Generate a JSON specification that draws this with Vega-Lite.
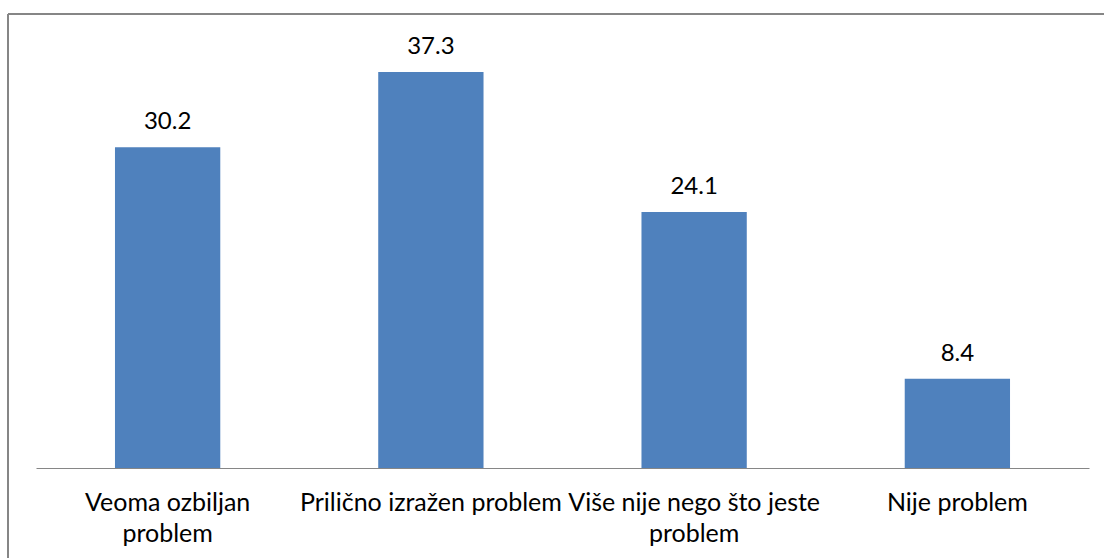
{
  "$schema": "https://vega.github.io/schema/vega-lite/v6.json",
  "autosize": {"type": "none"},
  "padding": {"left": 8, "top": 14, "right": 0, "bottom": 0},
  "width": 1096,
  "height": 544,
  "background": "white",
  "config": {
    "view": {"stroke": "#868686", "strokeWidth": 2, "strokeDash": [1096, 1640, 544, 0]},
    "font": "Lato"
  },
  "data": {
    "values": [
      {"category": "Veoma ozbiljan problem", "value": 30.2},
      {"category": "Prilično izražen problem", "value": 37.3},
      {"category": "Više nije nego što jeste problem", "value": 24.1},
      {"category": "Nije problem", "value": 8.4}
    ]
  },
  "encoding": {
    "x": {
      "field": "category",
      "type": "nominal",
      "sort": null,
      "scale": {"range": [28, 1081], "paddingInner": 0.6, "paddingOuter": 0.3},
      "axis": {
        "title": null,
        "orient": "bottom",
        "offset": -90,
        "labelAngle": 0,
        "labelOverlap": false,
        "labelLimit": 0,
        "ticks": false,
        "tickSize": 0,
        "labelPadding": 22,
        "labelFont": "Lato",
        "labelFontSize": 25,
        "labelLineHeight": 31,
        "labelColor": "#000000",
        "domainColor": "#868686",
        "domainWidth": 1,
        "grid": false,
        "labelExpr": "datum.label == 'Veoma ozbiljan problem' ? ['Veoma ozbiljan', 'problem'] : datum.label == 'Više nije nego što jeste problem' ? ['Više nije nego što jeste', 'problem'] : datum.label"
      }
    },
    "y": {
      "field": "value",
      "type": "quantitative",
      "scale": {"domain": [0, 42.76], "range": [454, 0], "nice": false, "zero": true},
      "axis": null
    }
  },
  "layer": [
    {"mark": {"type": "bar", "color": "#4F81BD"}},
    {
      "mark": {"type": "text", "baseline": "alphabetic", "align": "center", "dy": -18, "fontSize": 24, "font": "Lato", "color": "#000000"},
      "encoding": {"text": {"field": "value", "type": "quantitative", "format": ".1f"}}
    }
  ]
}
